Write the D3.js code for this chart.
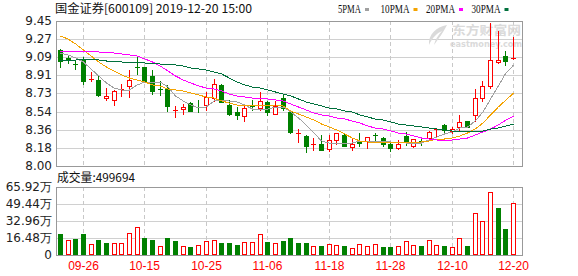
<!DOCTYPE html>
<html lang="zh">
<head>
<meta charset="utf-8">
<script src="https://cdn.jsdelivr.net/npm/d3@7"></script>
<style>
  body { margin: 0; background: #fff; }
  svg text { font-family: "DejaVu Sans", sans-serif; }
</style>
</head>
<body>
<div id="chart"></div>
<script>
// 60 trading sessions, 2019-09-23 .. 2019-12-20
const dates = ["09-23","09-24","09-25","09-26","09-27","09-30","10-08","10-09","10-10","10-11",
  "10-14","10-15","10-16","10-17","10-18","10-21","10-22","10-23","10-24","10-25",
  "10-28","10-29","10-30","10-31","11-01","11-04","11-05","11-06","11-07","11-08",
  "11-11","11-12","11-13","11-14","11-15","11-18","11-19","11-20","11-21","11-22",
  "11-25","11-26","11-27","11-28","11-29","12-02","12-03","12-04","12-05","12-06",
  "12-09","12-10","12-11","12-12","12-13","12-16","12-17","12-18","12-19","12-20"];

const open = [9.16,9.08,9.02,9.06,8.86,8.86,8.68,8.66,8.76,8.80,
  8.99,8.99,8.90,8.77,8.78,8.55,8.57,8.63,8.59,8.61,
  8.68,8.81,8.61,8.54,8.50,8.60,8.58,8.64,8.52,8.68,
  8.54,8.32,8.30,8.21,8.22,8.17,8.26,8.31,8.19,8.25,
  8.25,8.31,8.28,8.22,8.18,8.30,8.20,8.25,8.28,8.36,
  8.41,8.35,8.39,8.45,8.51,8.68,8.80,9.04,9.10,9.07];
const high = [9.17,9.11,9.06,9.09,8.94,8.90,8.78,8.76,8.82,8.96,
  9.10,8.99,8.96,8.85,8.81,8.60,8.62,8.64,8.66,8.74,
  8.87,8.82,8.66,8.59,8.61,8.66,8.74,8.65,8.65,8.71,
  8.55,8.37,8.31,8.28,8.31,8.31,8.33,8.33,8.28,8.33,
  8.29,8.33,8.29,8.25,8.26,8.34,8.27,8.27,8.35,8.37,
  8.42,8.39,8.51,8.45,8.77,8.85,9.43,9.35,9.15,9.29];
const low = [8.99,9.03,8.97,8.82,8.85,8.70,8.66,8.61,8.70,8.69,
  8.92,8.84,8.72,8.71,8.55,8.49,8.52,8.55,8.54,8.56,
  8.65,8.64,8.51,8.47,8.45,8.56,8.56,8.51,8.52,8.56,
  8.33,8.24,8.14,8.16,8.16,8.15,8.22,8.20,8.16,8.20,
  8.18,8.25,8.20,8.15,8.17,8.21,8.19,8.21,8.28,8.30,
  8.33,8.33,8.35,8.39,8.45,8.65,8.78,9.03,9.01,9.07];
const close = [9.05,9.06,9.01,8.85,8.87,8.71,8.70,8.75,8.77,8.86,
  8.98,8.85,8.75,8.76,8.60,8.56,8.59,8.55,8.58,8.69,
  8.82,8.64,8.52,8.51,8.58,8.59,8.65,8.54,8.60,8.58,
  8.34,8.33,8.20,8.22,8.16,8.26,8.33,8.20,8.22,8.23,
  8.29,8.30,8.22,8.18,8.22,8.24,8.27,8.24,8.34,8.37,
  8.36,8.37,8.44,8.39,8.68,8.80,9.06,9.06,9.05,9.08];

const ma5 = [9.13,9.11,9.08,9.04,8.97,8.90,8.83,8.78,8.76,8.76,
  8.81,8.84,8.84,8.84,8.79,8.70,8.65,8.61,8.58,8.59,
  8.65,8.66,8.65,8.64,8.61,8.57,8.57,8.57,8.59,8.59,
  8.54,8.48,8.41,8.33,8.25,8.23,8.23,8.23,8.23,8.25,
  8.25,8.25,8.25,8.24,8.24,8.23,8.23,8.23,8.26,8.29,
  8.32,8.34,8.38,8.39,8.45,8.54,8.67,8.80,8.93,9.01];
const ma10 = [9.30,9.27,9.22,9.16,9.10,9.04,8.99,8.95,8.91,8.88,
  8.86,8.84,8.81,8.80,8.77,8.76,8.75,8.73,8.71,8.69,
  8.68,8.65,8.63,8.61,8.60,8.61,8.61,8.61,8.61,8.60,
  8.55,8.52,8.49,8.46,8.42,8.39,8.36,8.32,8.28,8.25,
  8.24,8.24,8.24,8.24,8.24,8.24,8.24,8.24,8.25,8.27,
  8.27,8.28,8.30,8.33,8.37,8.43,8.51,8.59,8.66,8.73];
const ma20 = [9.14,9.15,9.15,9.15,9.15,9.14,9.14,9.13,9.12,9.11,
  9.10,9.07,9.04,9.00,8.95,8.90,8.86,8.83,8.80,8.78,
  8.77,8.75,8.72,8.70,8.69,8.68,8.68,8.67,8.66,8.65,
  8.62,8.59,8.56,8.53,8.51,8.50,8.48,8.47,8.45,8.43,
  8.40,8.38,8.37,8.35,8.33,8.32,8.30,8.28,8.27,8.26,
  8.26,8.26,8.27,8.28,8.31,8.34,8.37,8.41,8.46,8.50];
const ma30 = [9.05,9.06,9.06,9.07,9.07,9.06,9.05,9.05,9.04,9.04,
  9.04,9.03,9.03,9.02,9.02,9.01,9.00,8.98,8.97,8.96,
  8.94,8.92,8.88,8.84,8.81,8.79,8.78,8.76,8.74,8.72,
  8.70,8.67,8.64,8.62,8.60,8.58,8.57,8.55,8.54,8.51,
  8.49,8.47,8.46,8.44,8.42,8.41,8.40,8.39,8.38,8.37,
  8.36,8.35,8.35,8.34,8.35,8.35,8.37,8.38,8.40,8.42];

const volume = [202700,144800,154400,202700,103300,144800,115800,115800,115800,209400,
  267300,161000,144800,84000,161000,135100,84000,74300,93600,135100,
  141600,115800,115800,96500,122300,122300,199800,125500,112600,135100,
  167000,115800,115800,84000,84000,103300,93600,84000,64700,103300,
  84000,103300,74300,74300,84000,135100,93600,84000,144800,93600,
  84000,74300,161200,84000,412000,331000,611000,451000,251000,499694];

const priceTicks = [9.45, 9.27, 9.09, 8.91, 8.73, 8.54, 8.36, 8.18, 8.00];
const volTicks = [659200, 494400, 329600, 164800, 0];
const volTickLabels = ["65.92万", "49.44万", "32.96万", "16.48万", "0"];
const dateTicks = ["09-26", "10-15", "10-25", "11-06", "11-18", "11-28", "12-10", "12-20"];

const maNames = ["5PMA", "10PMA", "20PMA", "30PMA"];
const maColors = ["#a0a0a0", "#f4a300", "#ff00ff", "#00703c"];
const maSeries = [ma5, ma10, ma20, ma30];

const RED = "#ff0000", GREEN = "#008000";

// layout
const width = 578, height = 276;
const left = 56, right = 522;
const pTop = 21, pBottom = 166;
const vTop = 187, vBottom = 255;

const svg = d3.select("#chart")
  .append("svg")
  .attr("width", width)
  .attr("height", height);

const x = d3.scaleBand()
  .domain(dates)
  .range([left, 517])
  .paddingInner(0.35)
  .paddingOuter(0.175);
const mid = d => Math.round(x(d) + x.bandwidth() / 2);

const y = d3.scaleLinear().domain([8.00, 9.45]).range([pBottom, pTop]);
const yv = d3.scaleLinear().domain([0, 659200]).range([vBottom, vTop]);

// grid
const grid = svg.append("g").attr("shape-rendering", "crispEdges");
grid.selectAll(".hp")
  .data(priceTicks)
  .join("line")
  .attr("x1", left).attr("x2", right)
  .attr("y1", d => Math.round(y(d)) + 0.5)
  .attr("y2", d => Math.round(y(d)) + 0.5)
  .attr("stroke", "#d0d0d0");
grid.selectAll(".hv")
  .data(volTicks)
  .join("line")
  .attr("x1", left).attr("x2", right)
  .attr("y1", d => Math.round(yv(d)) + 0.5)
  .attr("y2", d => Math.round(yv(d)) + 0.5)
  .attr("stroke", "#d0d0d0");
[[pTop, pBottom], [vTop, vBottom]].forEach(([t, b]) => {
  grid.append("g").selectAll("line")
    .data(dateTicks)
    .join("line")
    .attr("x1", d => mid(d) + 0.5).attr("x2", d => mid(d) + 0.5)
    .attr("y1", t).attr("y2", b)
    .attr("stroke", "#c8c8c8")
    .attr("stroke-dasharray", "4,3");
});

// watermark
const wm = svg.append("g").attr("fill", "#dadada");
wm.append("path")
  .attr("d", "M447,25 C436,27 428,35 429,45 C432,38 437,33 442,31 C438,35 435,40 434,45 C439,38 443,33 447,25 Z");
wm.append("text")
  .attr("x", 452).attr("y", 35)
  .attr("font-size", 12).attr("font-weight", "bold")
  .attr("textLength", 69).attr("lengthAdjust", "spacingAndGlyphs")
  .style("font-family", "'Noto Sans CJK SC', sans-serif")
  .text("东方财富网");
wm.append("text")
  .attr("x", 450).attr("y", 47)
  .attr("font-size", 8).attr("font-weight", "bold")
  .attr("textLength", 72).attr("lengthAdjust", "spacingAndGlyphs")
  .text("eastmoney.com");

// frames
svg.append("rect")
  .attr("x", left + 0.5).attr("y", pTop + 0.5)
  .attr("width", right - left).attr("height", pBottom - pTop)
  .attr("fill", "none").attr("stroke", "#999")
  .attr("shape-rendering", "crispEdges");
svg.append("rect")
  .attr("x", left + 0.5).attr("y", vTop + 0.5)
  .attr("width", right - left).attr("height", vBottom - vTop)
  .attr("fill", "none").attr("stroke", "#999")
  .attr("shape-rendering", "crispEdges");

// y axis labels
svg.append("g").selectAll("text")
  .data(priceTicks)
  .join("text")
  .attr("x", 52).attr("y", d => y(d))
  .attr("dy", "0.36em")
  .attr("text-anchor", "end")
  .attr("font-size", 12)
  .attr("fill", "#222")
  .text(d => d.toFixed(2));
svg.append("g").selectAll("text")
  .data(volTicks)
  .join("text")
  .attr("x", 52).attr("y", d => yv(d))
  .attr("dy", "0.36em")
  .attr("text-anchor", "end")
  .attr("font-size", 12)
  .attr("fill", "#222")
  .text((d, i) => volTickLabels[i]);

// x axis labels
svg.append("g").selectAll("text")
  .data(dateTicks)
  .join("text")
  .attr("x", d => mid(d) + 0.5).attr("y", 270)
  .attr("text-anchor", "middle")
  .attr("font-size", 12)
  .attr("fill", RED)
  .style("font-family", "'Liberation Sans', sans-serif")
  .text(d => d);

// candles
const candles = svg.append("g").attr("shape-rendering", "crispEdges");
dates.forEach((d, i) => {
  const cx = mid(d);
  const up = close[i] > open[i];
  const col = up ? RED : GREEN;
  const yo = Math.round(y(open[i])), yc = Math.round(y(close[i]));
  const top = Math.min(yo, yc), bot = Math.max(yo, yc);
  const yh = Math.round(y(high[i])), yl = Math.round(y(low[i]));
  const g = candles.append("g");
  g.append("line")
    .attr("x1", cx + 0.5).attr("x2", cx + 0.5)
    .attr("y1", yh).attr("y2", top)
    .attr("stroke", col);
  g.append("line")
    .attr("x1", cx + 0.5).attr("x2", cx + 0.5)
    .attr("y1", bot).attr("y2", yl + 1)
    .attr("stroke", col);
  if (bot - top <= 1) {
    g.append("rect")
      .attr("x", cx - 2).attr("y", top)
      .attr("width", 5).attr("height", Math.max(bot - top, 1))
      .attr("fill", col);
  } else if (up) {
    g.append("rect")
      .attr("x", cx - 1.5).attr("y", top + 0.5)
      .attr("width", 4).attr("height", bot - top)
      .attr("fill", "#fff").attr("stroke", col);
  } else {
    g.append("rect")
      .attr("x", cx - 2).attr("y", top)
      .attr("width", 5).attr("height", bot - top + 1)
      .attr("fill", col);
  }
});

// moving averages
const line = d3.line()
  .x((d, i) => x(dates[i]) + x.bandwidth() / 2 + 0.5)
  .y(d => y(d));
svg.append("g").selectAll("path")
  .data(maSeries)
  .join("path")
  .attr("d", line)
  .attr("fill", "none")
  .attr("stroke", (d, i) => maColors[i])
  .attr("stroke-width", 1)
  .attr("shape-rendering", "crispEdges");

// volume bars (colour by change vs previous close)
const vols = svg.append("g").attr("shape-rendering", "crispEdges");
dates.forEach((d, i) => {
  const cx = mid(d);
  const up = i === 0 ? close[i] > open[i] : close[i] > close[i - 1];
  const yt = Math.round(yv(volume[i]));
  if (up) {
    vols.append("rect")
      .attr("x", cx - 1.5).attr("y", yt + 0.5)
      .attr("width", 4).attr("height", vBottom - yt - 1)
      .attr("fill", "#fff").attr("stroke", RED);
  } else {
    vols.append("rect")
      .attr("x", cx - 2).attr("y", yt)
      .attr("width", 5).attr("height", vBottom - yt)
      .attr("fill", GREEN);
  }
});

// title + legend
svg.append("text")
  .attr("x", 55).attr("y", 12.5)
  .attr("font-size", 12)
  .attr("fill", "#111")
  .attr("textLength", 197).attr("lengthAdjust", "spacingAndGlyphs")
  .style("font-family", "'Noto Sans CJK SC', sans-serif")
  .text("国金证券[600109] 2019-12-20 15:00");

svg.append("text")
  .attr("x", 57).attr("y", 182)
  .attr("font-size", 12)
  .attr("fill", "#111")
  .attr("textLength", 78).attr("lengthAdjust", "spacingAndGlyphs")
  .style("font-family", "'Noto Sans CJK SC', sans-serif")
  .text("成交量:" + volume[volume.length - 1]);

const legendX = [338, 380.5, 426, 471.5];
const legend = svg.append("g");
maNames.forEach((name, i) => {
  const tl = name.length * 6 - 1;
  legend.append("text")
    .attr("x", legendX[i]).attr("y", 12.5)
    .attr("font-size", 12)
    .attr("fill", "#111")
    .attr("textLength", tl).attr("lengthAdjust", "spacingAndGlyphs")
    .style("font-family", "'Liberation Serif', serif")
    .text(name);
  legend.append("rect")
    .attr("x", legendX[i] + tl + 4).attr("y", 8)
    .attr("width", 4).attr("height", 3)
    .attr("fill", maColors[i]);
});
</script>
</body>
</html>
